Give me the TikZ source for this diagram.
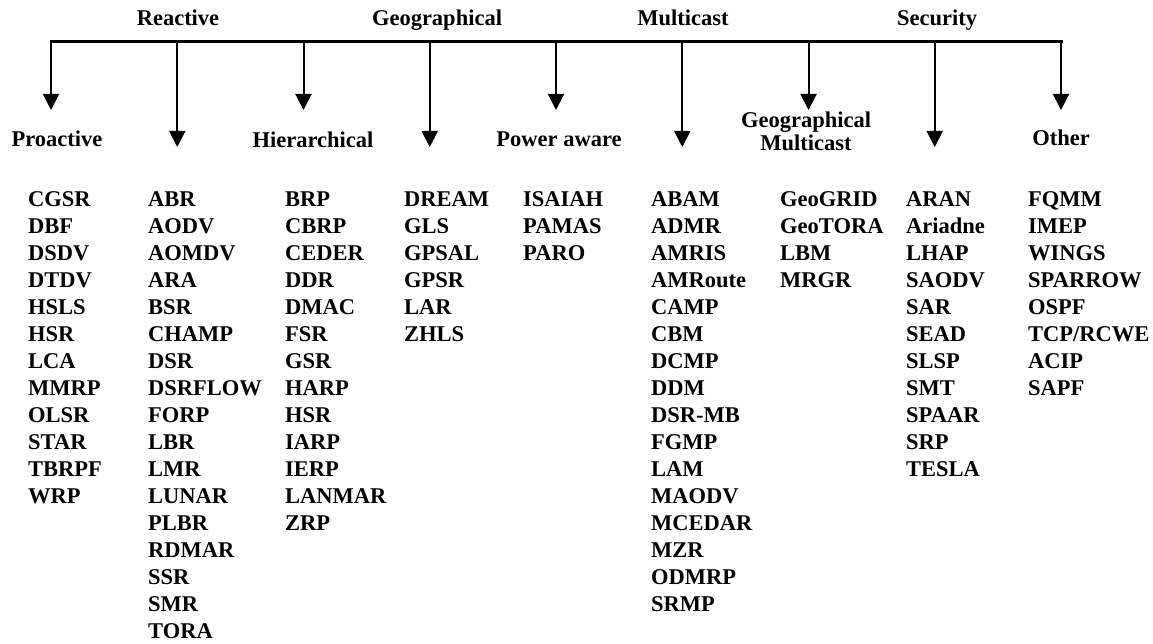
\documentclass[tikz,border=0pt]{standalone}
\usepackage{fontspec}
\setmainfont{Liberation Serif}
\usetikzlibrary{arrows.meta}

% one column of protocol names, left aligned, one node per name
\newcommand\protolist[3]{%
  \foreach \t [count=\i] in {#3} {%
    \node[item] (#1-\i) at (#2, {206.5+27*(\i-1)}) {\t};%
  }%
}

\begin{document}
\begin{tikzpicture}[x=1pt, y=-1pt,
  txt/.style={font=\fontsize{22.5}{27}\selectfont\bfseries, inner sep=0pt, text=black},
  item/.style={txt, anchor=base west},
  head/.style={txt, anchor=base},
  bar/.style={line width=3pt, line cap=rect},
  stem/.style={line width=2pt, -{Triangle[width=16pt, length=16pt]}}]
\useasboundingbox (0,0) rectangle (1153,644);

% labels above the bar
\node[head] (reactive) at (178,26) {Reactive};
\node[head] (geo)      at (437,26) {Geographical};
\node[head] (multi)    at (683,26) {Multicast};
\node[head] (secur)    at (937,26) {Security};

% labels below the short arrows
\node[head] (proact) at (57,147)  {Proactive};
\node[head] (hier)   at (313,148) {Hierarchical};
\node[head] (power)  at (559,147) {Power aware};
\node[head, align=center] (geomc) at (806,151) {Geographical\\[-4pt]Multicast};
\node[head] (other)  at (1061,146) {Other};

% the bar
\coordinate (barL) at (51,42);
\coordinate (barR) at (1061,42);
\draw[bar] (barL) -- (barR);

% arrows: short ones end above a label, long ones above a list
\foreach \k in {0,...,8} {
  \coordinate (top\k) at ({51+126.25*\k},42);
}
\foreach \k in {0,2,4,6,8} {
  \coordinate (tip\k) at ({51+126.25*\k},110);
}
\foreach \k in {1,3,5,7} {
  \coordinate (tip\k) at ({51+126.25*\k},147);
}
\foreach \k in {0,...,8} {
  \draw[stem] (top\k) -- (tip\k);
}

% protocol lists
\protolist{pro}{28}{CGSR,DBF,DSDV,DTDV,HSLS,HSR,LCA,MMRP,OLSR,STAR,TBRPF,WRP}
\protolist{rea}{148}{ABR,AODV,AOMDV,ARA,BSR,CHAMP,DSR,DSRFLOW,FORP,LBR,LMR,LUNAR,PLBR,RDMAR,SSR,SMR,TORA}
\protolist{hie}{285}{BRP,CBRP,CEDER,DDR,DMAC,FSR,GSR,HARP,HSR,IARP,IERP,LANMAR,ZRP}
\protolist{geo}{404}{DREAM,GLS,GPSAL,GPSR,LAR,ZHLS}
\protolist{pow}{523}{ISAIAH,PAMAS,PARO}
\protolist{mul}{651}{ABAM,ADMR,AMRIS,AMRoute,CAMP,CBM,DCMP,DDM,DSR-MB,FGMP,LAM,MAODV,MCEDAR,MZR,ODMRP,SRMP}
\protolist{gmc}{780}{GeoGRID,GeoTORA,LBM,MRGR}
\protolist{sec}{906}{ARAN,Ariadne,LHAP,SAODV,SAR,SEAD,SLSP,SMT,SPAAR,SRP,TESLA}
\protolist{oth}{1028}{FQMM,IMEP,WINGS,SPARROW,OSPF,TCP/RCWE,ACIP,SAPF}
\end{tikzpicture}
\end{document}
